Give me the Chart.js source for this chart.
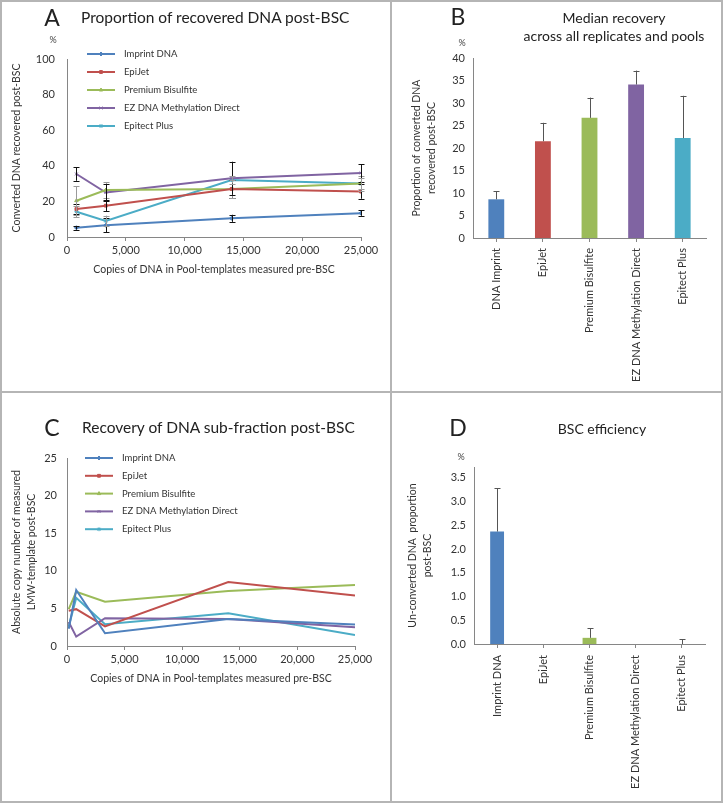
<!DOCTYPE html>
<html>
<head>
<meta charset="utf-8">
<script src="https://cdn.jsdelivr.net/npm/chart.js"></script>
<style>
  body { margin: 0; background: #fff; }
  #page { position: relative; width: 723px; height: 803px; font-family: Lato, "Open Sans", sans-serif; color: #222; }
  canvas { position: absolute; }
  .frame { position: absolute; left: 0; top: 0; width: 723px; height: 803px; box-sizing: border-box; border: 2px solid #b5b5b5; pointer-events: none; }
  .vline { position: absolute; left: 390px; top: 0; width: 2px; height: 803px; background: #b5b5b5; }
  .hline { position: absolute; left: 0; top: 391px; width: 723px; height: 2px; background: #b5b5b5; }
  .t { position: absolute; white-space: nowrap; transform: translate(0, -50%); }
  .c { position: absolute; white-space: nowrap; transform: translate(-50%, -50%); text-align: center; }
  .letter { font-size: 23px; }
  .pct { font-size: 9px; color: #444; }
</style>
</head>
<body>
<div id="page">
  <canvas id="chartA" width="390" height="391" style="left:0;top:0"></canvas>
  <canvas id="chartB" width="331" height="391" style="left:392px;top:0"></canvas>
  <canvas id="chartC" width="390" height="410" style="left:0;top:393px"></canvas>
  <canvas id="chartD" width="331" height="410" style="left:392px;top:393px"></canvas>

  <div class="c letter" style="left:52px;top:17px">A</div>
  <div class="t" style="left:81px;top:17px;font-size:15.5px">Proportion of recovered DNA post-BSC</div>
  <div class="c pct" style="left:53px;top:39px">%</div>

  <div class="c letter" style="left:458px;top:16px">B</div>
  <div class="c" style="left:614px;top:17px;font-size:14px">Median recovery</div>
  <div class="c" style="left:614px;top:35px;font-size:14px">across all replicates and pools</div>
  <div class="c pct" style="left:462px;top:42px">%</div>

  <div class="c letter" style="left:52px;top:427px">C</div>
  <div class="t" style="left:82px;top:427px;font-size:15.5px">Recovery of DNA sub-fraction post-BSC</div>

  <div class="c letter" style="left:458px;top:427px">D</div>
  <div class="c" style="left:602px;top:428px;font-size:14px">BSC efficiency</div>
  <div class="c pct" style="left:461px;top:456px">%</div>

  <div class="frame"></div>
  <div class="vline"></div>
  <div class="hline"></div>
</div>
<script>
// ---- data ----
const methods = ["Imprint DNA", "EpiJet", "Premium Bisulfite", "EZ DNA Methylation Direct", "Epitect Plus"];
const colors = ["#4F81BD", "#C0504D", "#9BBB59", "#8064A2", "#4BACC6"];
const markers = ["rectRot", "rect", "triangle", "crossRot", "star"];

// A: proportion recovered (%) vs copies pre-BSC
const copiesA = [800, 3300, 14000, 25000];
const recImprint = [5.2, 6.6, 10.5, 13.4];
const recEpiJet = [15.7, 17.6, 27, 25.5];
const recPremium = [20.4, 26.4, 27, 30];
const recEZ = [35.4, 25, 33, 36];
const recEpitect = [14.2, 9, 32, 30];
const errImprint = [1, 4, 2, 1.5];
const errEpiJet = [3, 3, 5, 4];
const errPremium = [8, 4.3, 5, 4];
const errEZ = [3.8, 4.5, 9.3, 5];
const errEpitect = [3, 3, 2, 3];

// B: median recovery
const catsB = ["DNA Imprint", "EpiJet", "Premium Bisulfite", "EZ DNA Methylation Direct", "Epitect Plus"];
const medianB = [8.6, 21.5, 26.7, 34.1, 22.2];
const errB = [1.8, 4.1, 4.5, 3.1, 9.4];

// C: sub-fraction copy number
const copiesC = [150, 800, 3300, 14000, 25000];
const lmwImprint = [2.3, 7.45, 1.7, 3.6, 2.85];
const lmwEpiJet = [4.7, 4.9, 2.6, 8.5, 6.7];
const lmwPremium = [4.9, 7.2, 5.9, 7.3, 8.1];
const lmwEZ = [3.2, 1.25, 3.7, 3.6, 2.5];
const lmwEpitect = [2.6, 6.4, 2.9, 4.35, 1.45];

// D: BSC efficiency
const catsD = ["Imprint DNA", "EpiJet", "Premium Bisulfite", "EZ DNA Methylation Direct", "Epitect Plus"];
const unconvD = [2.37, 0, 0.13, 0, 0];
const errD = [0.91, 0, 0.2, 0, 0.1];

// ---- common ----
Chart.defaults.font.family = "Lato, 'Open Sans', sans-serif";
Chart.defaults.color = "#333";
Chart.defaults.plugins.legend.display = false;
Chart.defaults.plugins.tooltip.enabled = false;
const axisGray = "#868686";

const errorBars = {
  id: "errorBars",
  afterDatasetsDraw(chart, args, o) {
    const ctx = chart.ctx, ys = chart.scales.y;
    chart.data.datasets.forEach((ds, i) => {
      if (!ds.errors) return;
      const meta = chart.getDatasetMeta(i);
      ctx.save();
      ctx.strokeStyle = ds.errorColor || o.color || "#555";
      ctx.lineWidth = 1;
      meta.data.forEach((el, j) => {
        const e = ds.errors[j];
        if (!e) return;
        const d = ds.data[j];
        const v = typeof d === "object" ? d.y : d;
        const x = Math.round(el.x) + 0.5;
        const top = ys.getPixelForValue(v + e);
        const bot = o.plusOnly ? ys.getPixelForValue(v) : ys.getPixelForValue(Math.max(0, v - e));
        ctx.beginPath();
        ctx.moveTo(x, top); ctx.lineTo(x, bot);
        ctx.moveTo(x - o.cap, Math.round(top) + 0.5); ctx.lineTo(x + o.cap, Math.round(top) + 0.5);
        if (!o.plusOnly) { ctx.moveTo(x - o.cap, Math.round(bot) + 0.5); ctx.lineTo(x + o.cap, Math.round(bot) + 0.5); }
        ctx.stroke();
      });
      ctx.restore();
    });
  }
};

const boxLegend = {
  id: "boxLegend",
  afterDraw(chart, args, o) {
    if (o.x == null) return;
    const ctx = chart.ctx;
    ctx.save();
    ctx.font = "9.5px " + Chart.defaults.font.family;
    ctx.textBaseline = "middle";
    chart.data.datasets.forEach((ds, i) => {
      const yy = o.y + i * o.gap;
      ctx.strokeStyle = ds.borderColor;
      ctx.fillStyle = ds.borderColor;
      ctx.lineWidth = 2;
      ctx.beginPath(); ctx.moveTo(o.x, yy); ctx.lineTo(o.x + 28, yy); ctx.stroke();
      ctx.lineWidth = 1;
      Chart.helpers.drawPoint(ctx, { pointStyle: ds.pointStyle, radius: 2, borderWidth: 1 }, o.x + 14, yy);
      ctx.fillStyle = "#333";
      ctx.fillText(ds.label, o.x + 37, yy);
    });
    ctx.restore();
  }
};

function lineSets(xs, series, radius, errs) {
  return series.map((s, i) => ({
    label: methods[i],
    data: s.map((v, j) => ({ x: xs[j], y: v })),
    borderColor: colors[i],
    backgroundColor: colors[i],
    pointStyle: markers[i],
    pointRadius: radius,
    pointBorderWidth: 1,
    borderWidth: 2,
    tension: 0,
    errors: errs ? errs[i] : null,
    errorColor: errs ? (i === 2 || i === 4 ? "#9a9a9a" : "#111") : null
  }));
}

function xLinear(height, tickPad, titlePad) {
  return {
    type: "linear", min: 0, max: 25000,
    afterFit: s => { s.height = height; },
    border: { display: true, color: axisGray },
    grid: { display: true, drawOnChartArea: false, drawTicks: true, tickLength: 4, color: axisGray },
    ticks: { stepSize: 5000, padding: tickPad, font: { size: 11 }, callback: v => v.toLocaleString("en-US") },
    title: { display: true, text: "Copies of DNA in Pool-templates measured pre-BSC", font: { size: 10.5 }, padding: { top: 0, bottom: titlePad } }
  };
}

function yAxis(width, max, step, title, titlePad, tickPad, fmt) {
  return {
    min: 0, max: max,
    afterFit: s => { s.width = width; },
    border: { display: true, color: axisGray },
    grid: { display: false, drawTicks: false },
    ticks: { stepSize: step, includeBounds: false, padding: tickPad, font: { size: 11 }, callback: fmt || (v => v) },
    title: { display: true, text: title, font: { size: 10.5, lineHeight: 1.35 }, padding: { top: titlePad, bottom: 0 } }
  };
}

// ---- A ----
new Chart("chartA", {
  type: "line",
  data: { datasets: lineSets(copiesA, [recImprint, recEpiJet, recPremium, recEZ, recEpitect], 2,
    [errImprint, errEpiJet, errPremium, errEZ, errEpitect]) },
  options: {
    responsive: false, animation: false, devicePixelRatio: 1,
    layout: { padding: { top: 59, right: 29, left: 0, bottom: 391 - 237 - 45 } },
    scales: {
      x: xLinear(45, 3, 6),
      y: yAxis(67, 100, 20, "Converted DNA recovered post-BSC", 10, 12)
    },
    plugins: { errorBars: { cap: 3 }, boxLegend: { x: 87, y: 54, gap: 18 } }
  },
  plugins: [errorBars, boxLegend]
});

// ---- B ----
new Chart("chartB", {
  type: "bar",
  data: { labels: catsB, datasets: [{ data: medianB, backgroundColor: colors, errors: errB, errorColor: "#555",
    categoryPercentage: 1, barPercentage: 0.34 }] },
  options: {
    responsive: false, animation: false, devicePixelRatio: 1,
    layout: { padding: { top: 58, right: 17, left: 0, bottom: 391 - 238 - 150 } },
    scales: {
      x: {
        afterFit: s => { s.height = 150; },
        border: { display: true, color: axisGray },
        grid: { display: true, offset: false, drawOnChartArea: false, tickLength: 4, color: axisGray },
        ticks: { minRotation: 90, maxRotation: 90, autoSkip: false, padding: 6, font: { size: 11 } }
      },
      y: yAxis(81, 40, 5, ["Proportion of converted DNA", "recovered post-BSC"], 18, 8)
    },
    plugins: { errorBars: { cap: 3, plusOnly: true } }
  },
  plugins: [errorBars]
});

// ---- C ----
new Chart("chartC", {
  type: "line",
  data: { datasets: lineSets(copiesC, [lmwImprint, lmwEpiJet, lmwPremium, lmwEZ, lmwEpitect], 0, null) },
  options: {
    responsive: false, animation: false, devicePixelRatio: 1,
    layout: { padding: { top: 65, right: 35, left: 0, bottom: 410 - 253 - 45 } },
    scales: {
      x: xLinear(45, 2.5, 6),
      y: yAxis(67, 25, 5, ["Absolute copy number of measured", "LMW-template post-BSC"], 10, 10)
    },
    plugins: { boxLegend: { x: 85, y: 65, gap: 17.8 } }
  },
  plugins: [boxLegend]
});

// ---- D ----
new Chart("chartD", {
  type: "bar",
  data: { labels: catsD, datasets: [{ data: unconvD, backgroundColor: colors, errors: errD, errorColor: "#555",
    categoryPercentage: 1, barPercentage: 0.3 }] },
  options: {
    responsive: false, animation: false, devicePixelRatio: 1,
    layout: { padding: { top: 74, right: 18, left: 0, bottom: 410 - 251 - 150 } },
    scales: {
      x: {
        afterFit: s => { s.height = 150; },
        border: { display: true, color: axisGray },
        grid: { display: true, offset: false, drawOnChartArea: false, tickLength: 4, color: axisGray },
        ticks: { minRotation: 90, maxRotation: 90, autoSkip: false, padding: 7, font: { size: 11 } }
      },
      y: yAxis(82, 3.73, 0.5, ["Un-converted DNA  proportion", "post-BSC"], 14, 8, v => v.toFixed(1))
    },
    plugins: { errorBars: { cap: 3, plusOnly: true } }
  },
  plugins: [errorBars]
});
</script>
</body>
</html>
